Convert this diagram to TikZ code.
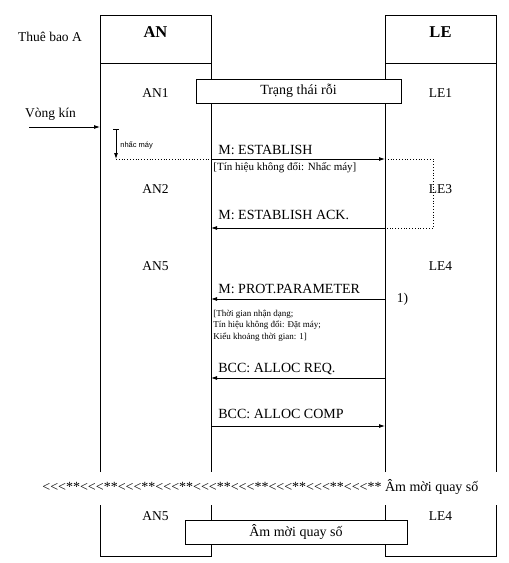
\documentclass[tikz,border=0pt]{standalone}
\usepackage{fontspec}
\setmainfont{Liberation Serif}
\newfontfamily\tinysans{Liberation Sans}
\usetikzlibrary{arrows.meta,positioning}

\begin{document}
\begin{tikzpicture}[x=1pt,y=-1pt,line width=0.8pt,
  lane/.style={line width=0.8pt},
  msg/.style={-{Latex[length=6pt,width=4pt]}},
  dotline/.style={dotted},
  head/.style={font=\fontsize{16.5}{18}\selectfont\bfseries,anchor=base,inner sep=0pt},
  lbl/.style={font=\fontsize{13.5}{16}\selectfont,anchor=base,inner sep=0pt},
  mtxt/.style={font=\fontsize{14}{16}\selectfont,anchor=base west,inner sep=0pt},
  statebox/.style={draw,fill=white,font=\fontsize{14}{16}\selectfont,minimum height=24pt,inner sep=0pt}]
\useasboundingbox (0,0) rectangle (509,563);
% lifeline columns
\foreach \l/\r in {100/211,385/496} {
  \draw[lane] (\l,472) -- (\l,15) -- (\r,15) -- (\r,472);
  \draw[lane] (\l,63) -- (\r,63);
  \draw[lane] (\l,505) -- (\l,556) -- (\r,556) -- (\r,505);
}
\node[head] (an) at (155.5,37) {AN};
\node[head] (le) at (440.5,37) {LE};
\node[lbl] (sub) at (50,41) {Thuê bao A};
\node[lbl] (loop) at (50.5,117) {Vòng kín};
% states
\foreach \n/\t/\x/\y in {an1/AN1/155.5/97.5, an2/AN2/155.5/193, an5/AN5/155.5/270,
    le1/LE1/440.5/97.5, le3/LE3/440.5/193, le4/LE4/440.5/270,
    an5b/AN5/155.5/520, le4b/LE4/440.5/520}
  \node[lbl] (\n) at (\x,\y) {\t};
\node[statebox,minimum width=205pt] (idle) at (298.5,91) {Trạng thái rỗi};
% off-hook
\coordinate (vk) at (29,127);
\coordinate (vkE) at (100,127);
\draw[msg] (vk) -- (vkE);
\coordinate (hkT) at (116,129);
\coordinate (hk) at (116,159);
\draw[{Bar[width=6pt]}-{Latex[length=6pt,width=4pt]}] (hkT) -- (hk);
\node[font=\tinysans\fontsize{7.5}{9}\selectfont,anchor=base west,inner sep=0pt] (hkl) at (120,147) {nhấc máy};
% establish + ack
\coordinate (e1) at (211,159);
\coordinate (e2) at (385,159);
\coordinate (lp) at (433,159);
\coordinate (lq) at (433,228);
\coordinate (k2) at (385,228);
\coordinate (k1) at (211,228);
\draw[dotline] (hk) -- (e1);
\draw[msg] (e1) -- (e2);
\draw[dotline] (e2) -- (lp) -- (lq) -- (k2);
\draw[msg] (k2) -- (k1);
\node[mtxt] (m1) at (218,154) {M: ESTABLISH};
\node[font=\fontsize{11}{13}\selectfont,anchor=base west,inner sep=0pt] (m1n) at (213,170.5) {[Tín hiệu không đổi: Nhấc máy]};
\node[mtxt] (m2) at (218,219) {M: ESTABLISH ACK.};
% remaining messages
\foreach \n/\y in {p/299,r/378,c/426} {
  \coordinate (\n L) at (211,\y);
  \coordinate (\n R) at (385,\y);
}
\draw[msg] (pR) -- (pL);
\draw[msg] (rR) -- (rL);
\draw[msg] (cL) -- (cR);
\node[mtxt] (m3) at (218,293) {M: PROT.PARAMETER};
\node[lbl] (fn) at (402.5,302) {1)};
\node[font=\fontsize{9}{11.5}\selectfont,align=left,anchor=north west,inner sep=0pt] (m3n) at (213,309.5)
  {[Thời gian nhận dạng;\\Tín hiệu không đổi: Đặt máy;\\Kiểu khoảng thời gian: 1]};
\node[mtxt] (m4) at (218,372) {BCC: ALLOC REQ.};
\node[mtxt] (m5) at (218,418) {BCC: ALLOC COMP};
% dial tone
\node[mtxt] (tone) at (42,491) {<{}<{}<**<{}<{}<**<{}<{}<**<{}<{}<**<{}<{}<**<{}<{}<**<{}<{}<**<{}<{}<**<{}<{}<** Âm mời quay số};
\node[statebox,minimum width=222pt] (dial) at (296,532) {Âm mời quay số};
\end{tikzpicture}
\end{document}
